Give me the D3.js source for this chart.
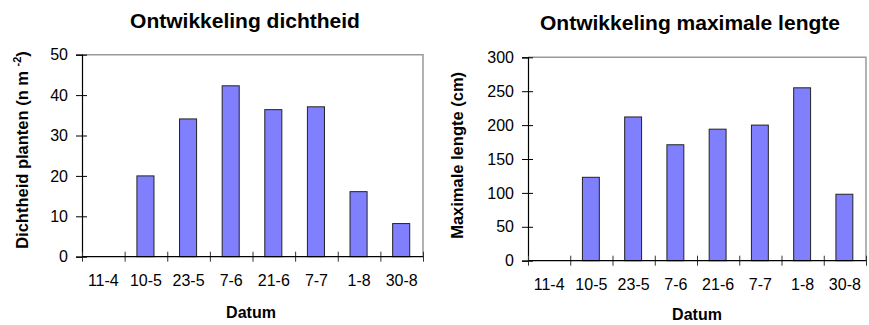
<!DOCTYPE html>
<html>
<head>
<meta charset="utf-8">
<script src="https://cdn.jsdelivr.net/npm/d3@7"></script>
<style>
  html, body { margin: 0; padding: 0; background: #fff; }
  svg { display: block; font-family: "Liberation Sans", Arial, sans-serif; }
</style>
</head>
<body>
<svg id="chart" width="869" height="325"></svg>
<script>
// Sampling dates (day-month)
const dates = ["11-4", "10-5", "23-5", "7-6", "21-6", "7-7", "1-8", "30-8"];

// Plant density (n per m²) per date
const density = [0, 20, 34.1, 42.3, 36.4, 37.1, 16.1, 8.2];

// Maximum plant length (cm) per date
const maxLength = [0, 123, 212, 171, 194, 200, 255, 98];

// Y-axis tick values
const densityTicks = [0, 10, 20, 30, 40, 50];
const lengthTicks = [0, 50, 100, 150, 200, 250, 300];

const svg = d3.select("#chart");

function drawPanel(cfg) {
  const { left, right, top, bottom, values, ymax, ticks } = cfg;
  const g = svg.append("g");

  const x = d3.scaleBand().domain(dates).range([left, right]).paddingInner(0).paddingOuter(0);
  const xEdge = d3.scaleLinear().domain([0, dates.length]).range([left, right]);
  const y = d3.scaleLinear().domain([0, ymax]).range([bottom, top]);

  // Plot frame: grey on top and right
  g.append("path")
    .attr("d", `M${left},${top}H${right}V${bottom}`)
    .attr("fill", "none")
    .attr("stroke", "#999")
    .attr("stroke-width", 1.5);

  // Bars
  const bw = x.bandwidth() * 0.4;
  g.selectAll("rect.bar")
    .data(dates.map((d, i) => ({ d, v: values[i] })).filter(o => o.v > 0))
    .join("rect")
    .attr("class", "bar")
    .attr("x", o => x(o.d) + x.bandwidth() / 2 - bw / 2 - 0.5)
    .attr("y", o => y(o.v))
    .attr("width", bw)
    .attr("height", o => y(0) - y(o.v))
    .attr("fill", "#8080ff")
    .attr("stroke", "#222")
    .attr("stroke-width", 1);

  // Y axis
  const yAxis = g.append("g")
    .attr("transform", `translate(${left},0)`)
    .call(d3.axisLeft(y).tickValues(ticks).tickSize(6).tickPadding(8).tickFormat(d3.format("d")));
  yAxis.select(".domain").attr("stroke", "#000").attr("stroke-width", 1.2);
  yAxis.selectAll(".tick line").attr("x1", 5).attr("stroke", "#000");
  yAxis.selectAll(".tick text")
    .attr("font-size", 16)
    .attr("font-family", "Liberation Sans, Arial, sans-serif")
    .attr("fill", "#000");

  // X axis: tick marks at category boundaries
  const xTicks = g.append("g")
    .attr("transform", `translate(0,${bottom})`)
    .call(d3.axisBottom(xEdge).ticks(dates.length).tickSize(5).tickFormat(""));
  xTicks.select(".domain").remove();
  xTicks.selectAll(".tick line").attr("y1", -5).attr("stroke", "#333");
  g.append("line")
    .attr("x1", left).attr("x2", right)
    .attr("y1", bottom).attr("y2", bottom)
    .attr("stroke", "#000").attr("stroke-width", 1.2);

  // X axis: category labels centred in each band
  const xLabels = g.append("g")
    .attr("transform", `translate(0,${bottom})`)
    .call(d3.axisBottom(x).tickSize(0).tickPadding(18));
  xLabels.select(".domain").remove();
  xLabels.selectAll(".tick text")
    .attr("font-size", 16)
    .attr("font-family", "Liberation Sans, Arial, sans-serif")
    .attr("fill", "#000");

  // Titles
  g.append("text")
    .attr("x", cfg.titleX).attr("y", cfg.titleY)
    .attr("text-anchor", "middle")
    .attr("font-size", 21).attr("font-weight", "bold")
    .text(cfg.title);

  g.append("text")
    .attr("x", cfg.xLabelX).attr("y", cfg.xLabelY)
    .attr("text-anchor", "middle")
    .attr("font-size", 16).attr("font-weight", "bold")
    .text("Datum");

  const yl = g.append("text")
    .attr("transform", `translate(${cfg.yLabelX},${cfg.yLabelY}) rotate(-90)`)
    .attr("text-anchor", "middle")
    .attr("font-size", 16.5).attr("font-weight", "bold");
  cfg.yLabel(yl);
}

drawPanel({
  left: 82, right: 423, top: 54.7, bottom: 256.7,
  values: density, ymax: 50, ticks: densityTicks,
  title: "Ontwikkeling dichtheid", titleX: 245, titleY: 28,
  xLabelX: 251, xLabelY: 318,
  yLabelX: 27.5, yLabelY: 150,
  yLabel: t => {
    t.append("tspan").text("Dichtheid planten (n m ");
    t.append("tspan").attr("font-size", 11).attr("dy", -7).text("-2");
    t.append("tspan").attr("dy", 7).text(")");
  }
});

drawPanel({
  left: 528, right: 866, top: 57.3, bottom: 260.7,
  values: maxLength, ymax: 300, ticks: lengthTicks,
  title: "Ontwikkeling maximale lengte", titleX: 690, titleY: 30,
  xLabelX: 697, xLabelY: 320,
  yLabelX: 463.3, yLabelY: 155.4,
  yLabel: t => t.text("Maximale lengte (cm)")
});
</script>
</body>
</html>
